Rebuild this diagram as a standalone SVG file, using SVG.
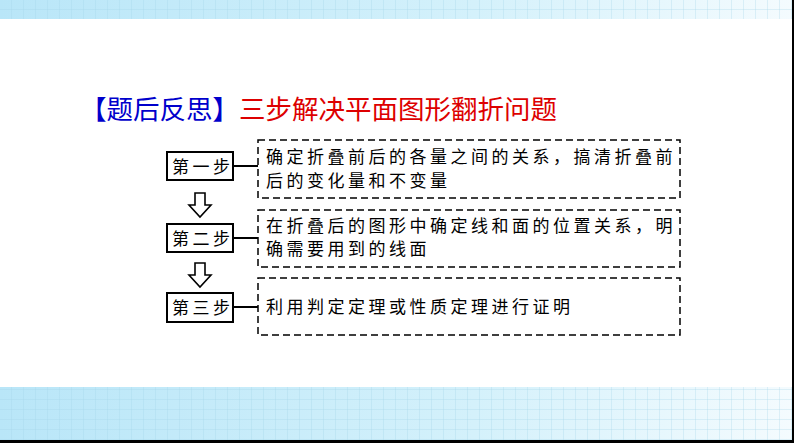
<svg xmlns="http://www.w3.org/2000/svg" width="794" height="443" viewBox="0 0 794 443">
<defs>
<linearGradient id="bg" x1="0" x2="1" y1="0" y2="0"><stop offset="0" stop-color="#b9e6f8"/><stop offset="0.6" stop-color="#d4f1fb"/><stop offset="1" stop-color="#f4fbfe"/></linearGradient>
<pattern id="grid" width="12" height="10" patternUnits="userSpaceOnUse"><path d="M12 0V10M0 10H12" stroke="#9fd3ea" stroke-width="0.6" fill="none"/></pattern>
<style>
.s{fill:#fff;stroke:#000;stroke-width:2}
.d{fill:none;stroke:#000;stroke-width:1.5;stroke-dasharray:7 4}
.t{font-family:"Noto Sans CJK SC",sans-serif;font-size:17px;fill:#000;letter-spacing:3.5px}
.a{fill:#fff;stroke:#000;stroke-width:1.6}
</style>
</defs>
<rect width="794" height="443" fill="#fff"/>
<rect x="0" y="0" width="792" height="19" fill="url(#bg)"/>
<rect x="0" y="0" width="792" height="19" fill="url(#grid)"/>
<rect x="0" y="387" width="792" height="53" fill="url(#bg)"/>
<rect x="0" y="387" width="792" height="53" fill="url(#grid)"/>
<rect x="792" y="0" width="2" height="443" fill="#000"/>
<rect x="0" y="440" width="794" height="3" fill="#000"/>
<text x="80" y="119" font-family="Noto Sans CJK SC,sans-serif" font-size="26.5"><tspan fill="#0000cc">【题后反思】</tspan><tspan fill="#dd0000">三步解决平面图形翻折问题</tspan></text>
<g id="connectors" stroke="#000" stroke-width="2">
<line x1="233" y1="166" x2="258" y2="166"/>
<line x1="233" y1="238" x2="258" y2="238"/>
<line x1="233" y1="307" x2="258" y2="307"/>
<path class="a" d="M195 193h10v12h6l-11 12-11-12h6z"/>
<path class="a" d="M195 263h10v12h6l-11 12-11-12h6z"/>
</g>
<g id="step1"><rect class="s" x="167" y="152" width="66" height="28"/><text class="t" x="172" y="173">第一步</text></g>
<g id="step2"><rect class="s" x="167" y="224" width="66" height="28"/><text class="t" x="172" y="245">第二步</text></g>
<g id="step3"><rect class="s" x="167" y="293" width="66" height="29"/><text class="t" x="172" y="314">第三步</text></g>
<g id="desc1"><rect class="d" x="258" y="140" width="422" height="58"/><text class="t" x="266" y="163">确定折叠前后的各量之间的关系，搞清折叠前</text><text class="t" x="266" y="187">后的变化量和不变量</text></g>
<g id="desc2"><rect class="d" x="258" y="210" width="422" height="57"/><text class="t" x="266" y="232">在折叠后的图形中确定线和面的位置关系，明</text><text class="t" x="266" y="255">确需要用到的线面</text></g>
<g id="desc3"><rect class="d" x="258" y="278" width="422" height="57"/><text class="t" x="266" y="313">利用判定定理或性质定理进行证明</text></g>
</svg>
